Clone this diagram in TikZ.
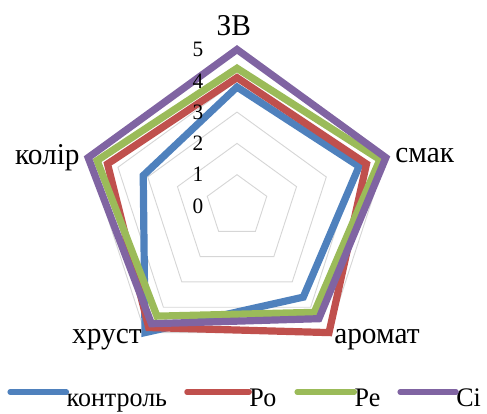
\documentclass[tikz,border=0pt]{standalone}
\usepackage{fontspec}
\setmainfont{Liberation Serif}
\definecolor{ctrl}{HTML}{4F81BD}
\definecolor{ro}{HTML}{C0504D}
\definecolor{re}{HTML}{9BBB59}
\definecolor{si}{HTML}{8064A2}

\begin{document}
\begin{tikzpicture}[x=23.475pt, y=23.475pt,
  gridline/.style={draw=black!16, line width=0.7pt},
  series/.style={line width=5.4pt,
    preaction={draw=black!70, opacity=0.22, transform canvas={shift={(1.2pt,-1.2pt)}}}},
  legline/.style={line width=4pt, line cap=round},
  lbl/.style={font=\fontsize{22}{26}\selectfont, inner sep=0pt, yscale=1.03, transform shape},
  tick/.style={lbl, font=\fontsize{16}{19}\selectfont},
  legtext/.style={lbl, font=\fontsize{19.5}{23}\selectfont}]
  \useasboundingbox (-7.572,-6.645) rectangle (7.987,6.581);

  % grid
  \foreach \r in {1,...,5}
    \draw[gridline] (90:\r) -- (18:\r) -- (-54:\r) -- (-126:\r) -- (162:\r) -- cycle;

  % series: ЗВ, смак, аромат, хруст, колір
  \foreach \col/\a/\b/\c/\d/\e in {ctrl/3.8/4.1/3.6/5.0/3.15, ro/4.1/4.35/5.0/4.8/4.35,
      re/4.4/4.8/4.2/4.35/4.7, si/5.0/5.0/4.45/4.65/5.0}
    \draw[series, \col] (90:\a) -- (18:\b) -- (-54:\c) -- (-126:\d) -- (162:\e) -- cycle;

  % scale
  \foreach \k in {0,...,5}
    \node[tick] (t\k) at (-1.25,\k) {\k};

  % axes
  \node[lbl] (zv) at (-0.1,5.75) {ЗВ};
  \node[lbl, anchor=west] (smak) at (5.05,1.6) {смак};
  \node[lbl, anchor=base west] (aromat) at (3.1,-4.38) {аромат};
  \node[lbl, anchor=base east] (khrust) at (-3.04,-4.38) {хруст};
  \node[lbl, anchor=base east] (kolir) at (-5.02,1.31) {колір};

  % legend
  \foreach \col/\txt/\xa/\xb [count=\i] in {ctrl/контроль/-7.25/-5.45, ro/Ро/-1.6/0.39,
      re/Ре/1.92/3.75, si/Сі/5.21/7.0} {
    \coordinate (s\i) at (\xa,-5.94);
    \node[legtext, anchor=base west] (leg\i) at (\xb,-6.42) {\txt};
    \draw[legline, \col] (s\i) -- (s\i -| leg\i.west);
  }
\end{tikzpicture}
\end{document}
